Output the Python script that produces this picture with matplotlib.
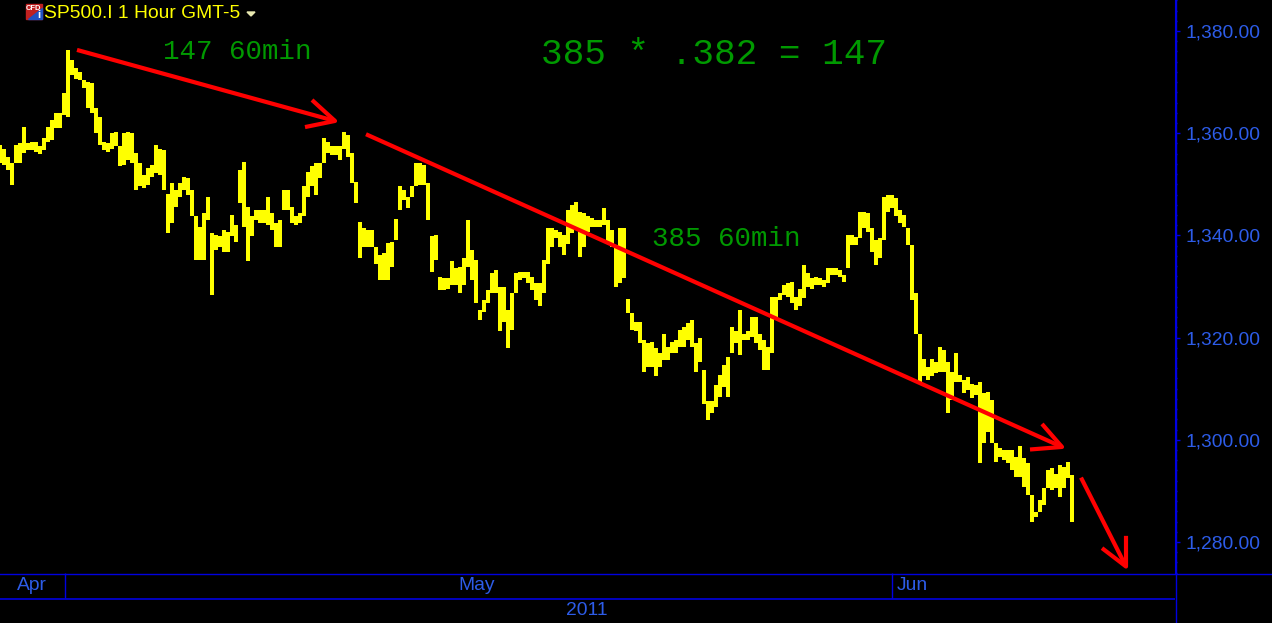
import matplotlib
matplotlib.use('Agg')
import matplotlib.pyplot as plt
import matplotlib.patches as patches
import numpy as np

# hourly high/low, left to right
High = [1357.7,1357.0,1355.4,1354.1,1357.7,1358.0,1361.3,1358.0,1358.3,1358.3,1357.4,1359.0,1361.3,1362.6,1363.9,1363.9,1367.8,1376.3,1374.3,1372.7,1372.0,1370.4,1370.1,1369.8,1364.9,1363.2,1358.3,1358.0,1360.0,1360.3,
        1357.4,1360.0,1360.3,1360.0,1356.1,1354.1,1351.8,1353.1,1353.8,1357.7,1357.0,1356.7,1348.2,1350.2,1348.9,1350.2,1351.5,1351.2,1348.9,1343.7,1341.7,1344.3,1347.6,1340.4,1340.1,1339.8,1341.1,1340.7,1344.0,1342.0,
        1352.8,1354.4,1345.6,1343.7,1345.0,1345.0,1345.0,1347.6,1344.3,1342.4,1343.0,1348.9,1348.9,1345.6,1343.7,1344.3,1349.6,1352.5,1353.5,1354.1,1354.1,1359.0,1358.3,1357.4,1357.4,1357.4,1360.3,1359.6,1356.1,1350.5,
        1342.7,1341.4,1341.1,1341.1,1337.8,1336.2,1336.5,1338.5,1338.8,1343.3,1349.6,1348.9,1347.6,1349.6,1354.1,
        1354.1,1353.8,1350.2,1339.8,1340.1,1331.9,1331.6,1331.6,1334.9,1333.6,1333.9,1335.5,1343.0,1337.1,1335.2,1325.4,1327.4,1329.3,1332.6,1333.2,1330.0,1330.0,1325.4,1328.7,1332.6,1332.9,1332.9,1332.9,1331.9,1330.6,
        1330.6,1335.2,1341.4,1341.4,1341.1,1340.7,1340.1,1345.0,1346.0,1346.6,1344.6,1344.3,1343.7,1343.4,1343.0,1343.0,1345.3,1343.0,1341.1,1338.1,1341.4,1341.4,1327.5,1324.8,1323.1,1323.1,1319.5,1318.9,1319.2,1317.9,
        1316.9,1320.8,1318.2,1319.2,1319.5,1321.5,1322.1,1322.8,1323.4,1318.9,1319.9,1313.7,1307.5,1307.5,1310.7,1312.7,1314.6,1316.3,1322.1,1321.2,1325.4,1320.8,1321.2,1324.1,1324.1,1320.8,1319.5,1318.2,1328.0,1328.0,
        1328.7,1330.3,1330.6,1330.9,1328.0,1329.6,1334.2,1332.6,1331.6,1331.9,
        1331.6,1331.3,1333.6,1333.6,1333.6,1333.2,1332.2,1340.1,1340.1,1339.7,1344.6,1344.6,1344.3,1341.4,1339.1,1339.4,1347.6,1347.9,1347.9,1347.3,1345.0,1344.0,1341.4,1338.1,1328.7,1320.8,1315.9,1314.3,1315.9,1315.3,
        1318.2,1317.6,1315.3,1313.3,1316.9,1312.7,1311.7,1312.3,1311.0,1310.7,1311.4,1309.1,1309.4,1307.8,1299.3,1298.3,1298.0,1298.0,1298.0,1296.7,1298.7,1296.4,1295.4,1289.2,1285.9,1288.2,1290.5,1294.1,1294.4,1293.4,
        1295.0,1294.7,1295.7,1293.1]
Low = [1354.1,1353.8,1352.8,1349.9,1354.1,1354.1,1356.1,1356.7,1356.7,1356.4,1355.9,1356.7,1358.3,1358.7,1361.0,1361.0,1363.6,1363.2,1371.4,1370.7,1370.4,1368.8,1364.9,1363.9,1360.0,1357.7,1356.7,1356.4,1357.0,1357.4,
       1353.5,1353.8,1354.8,1354.1,1348.9,1349.6,1349.2,1349.9,1351.5,1352.2,1351.8,1348.9,1340.4,1342.4,1345.6,1347.6,1348.9,1347.9,1343.7,1335.2,1335.2,1335.2,1343.0,1328.3,1337.2,1337.8,1336.8,1336.8,1339.8,1338.8,
       1346.3,1341.7,1334.9,1339.8,1343.0,1342.4,1342.4,1342.0,1341.1,1337.8,1337.8,1345.0,1345.0,1342.4,1342.0,1342.4,1343.7,1347.6,1349.6,1347.9,1351.2,1354.1,1356.1,1355.7,1355.7,1354.8,1357.0,1355.4,1350.2,1346.3,
       1335.5,1337.8,1337.8,1337.8,1334.5,1331.3,1331.3,1331.3,1333.9,1339.1,1345.0,1347.0,1345.3,1347.6,1349.6,
       1349.9,1349.9,1343.0,1332.9,1335.2,1329.3,1329.3,1329.6,1330.3,1330.3,1328.7,1330.3,1333.9,1331.3,1326.7,1323.4,1325.1,1326.7,1328.7,1328.7,1321.2,1323.1,1317.9,1321.5,1328.7,1331.3,1331.6,1330.6,1329.3,1327.4,
       1326.1,1328.7,1334.5,1337.8,1339.4,1337.8,1336.2,1338.4,1340.4,1341.4,1335.8,1337.8,1340.7,1341.7,1341.7,1341.7,1342.0,1338.5,1337.8,1330.0,1330.6,1331.6,1324.8,1321.5,1321.2,1318.9,1313.3,1314.3,1314.3,1312.4,
       1314.3,1315.6,1315.6,1316.9,1316.9,1318.2,1318.2,1319.5,1318.2,1313.3,1315.3,1307.1,1303.9,1305.2,1306.5,1308.4,1310.4,1308.4,1316.9,1318.9,1316.6,1319.5,1319.5,1320.2,1318.9,1317.6,1313.7,1313.7,1316.9,1324.1,
       1327.4,1328.3,1328.0,1326.7,1325.4,1326.1,1327.7,1330.0,1329.6,1330.3,
       1330.3,1330.0,1330.6,1332.2,1332.2,1331.9,1330.9,1333.6,1338.1,1338.1,1339.4,1341.4,1340.7,1336.8,1334.2,1335.5,1339.1,1344.6,1345.3,1343.7,1342.4,1341.7,1338.1,1327.4,1320.8,1311.0,1312.4,1311.7,1312.4,1313.0,
       1313.3,1313.3,1305.2,1307.8,1311.4,1311.4,1309.1,1309.7,1308.1,1308.8,1295.4,1299.3,1301.6,1299.3,1295.7,1296.7,1296.0,1295.4,1294.1,1292.8,1292.8,1290.8,1289.2,1284.0,1284.9,1285.9,1287.2,1290.5,1290.2,1290.5,
       1288.9,1290.5,1292.5,1284.0]

# drawn trend arrows, (slot, price)
Arrow_1 = ([77, 335], [1376.3, 1362.4])
Barb_1 = ([312, 335, 305], [1366.5, 1362.4, 1361.2])
Arrow_2 = ([366, 1062], [1359.8, 1298.6])
Barb_2 = ([1042, 1062, 1030], [1303.1, 1298.6, 1298.1])
Arrow_3 = ([1081, 1126], [1292.6, 1275.2])
Barb_3 = ([1126, 1126, 1102], [1281.2, 1275.2, 1278.8])

Price_Ticks = [1280, 1300, 1320, 1340, 1360, 1380]
Month_Names = ['Apr', 'May', 'Jun']
Month_Pos = [32, 477, 912]
Month_Edges = [65, 892]

W, H = 1272., 623.
Blue = '#2d5ce8'
Line_Blue = '#0000e0'
Green = '#009900'
Yellow = '#ffff00'
Red = '#ff0000'
Sans = 'Liberation Sans'
Mono = 'Liberation Mono'

fig = plt.figure(figsize=(W/100, H/100), dpi=100, facecolor='black')

'''
    price chart
'''
ax = fig.add_axes([0, (H-573)/H, 1175/W, 573/H], facecolor='black')
ax.set_xlim(0, 1175)
ax.set_ylim(1273.93, 1386.07)

Slot = np.arange(len(High))*4
ax.vlines(Slot, Low, High, color=Yellow, linewidth=2.6, antialiased=False)

for line in (Arrow_1, Barb_1, Arrow_2, Barb_2, Arrow_3, Barb_3):
    ax.plot(line[0], line[1], color=Red, linewidth=3.0, solid_capstyle='butt', solid_joinstyle='round')

ax.text(163, 1375.9, '147 60min', color=Green, family=Mono, fontsize=19.8, va='center')
ax.text(541, 1375.4, '385 * .382 = 147', color=Green, family=Mono, fontsize=26, va='center')
ax.text(652, 1339.3, '385 60min', color=Green, family=Mono, fontsize=19.8, va='center')

for side in ('top', 'left', 'bottom'):
    ax.spines[side].set_visible(False)
ax.spines['right'].set_color(Line_Blue)
ax.yaxis.tick_right()
ax.set_yticks(Price_Ticks)
ax.set_yticklabels(['{:,.2f}'.format(p) for p in Price_Ticks], color=Blue, family=Sans, fontsize=13.9)
ax.set_yticks(np.arange(1274, 1387, 2), minor=True)
ax.tick_params(axis='y', which='major', length=3.6, width=1, color=Line_Blue, pad=4.3)
ax.tick_params(axis='y', which='minor', length=1.5, width=1, color=Line_Blue)
ax.set_xticks([])

'''
    month / year band
'''
bx = fig.add_axes([0, 0, 1175/W, 50/H], facecolor='black')
bx.set_xlim(0, 1175)
bx.set_ylim(50, 0)
bx.hlines(25.5, 0, 1175, color=Line_Blue, linewidth=1.2)
bx.vlines(Month_Edges, 0, 25, color=Line_Blue, linewidth=1)
for name, pos in zip(Month_Names, Month_Pos):
    bx.text(pos, 13, name, color=Blue, family=Sans, fontsize=13.9, ha='center', va='center')
bx.text(587, 37.5, '2011', color=Blue, family=Sans, fontsize=13.9, ha='center', va='center')
bx.axis('off')

# full height frame lines, these run past the axes
fig.add_artist(plt.Line2D([0, 1], [(H-573.5)/H]*2, color=Line_Blue, linewidth=1))
fig.add_artist(plt.Line2D([1175.5/W]*2, [0, 1], color=Line_Blue, linewidth=1))

'''
    title and symbol icon
'''
fig.text(44/W, 1-13/H, 'SP500.I 1 Hour GMT-5', color=Yellow, family=Sans, fontsize=13.9, va='center')
fig.add_artist(plt.Polygon([[247/W, 1-12/H], [255/W, 1-12/H], [251/W, 1-16/H]], closed=True, color='#e8e8b0', transform=fig.transFigure))
fig.add_artist(patches.Rectangle((26/W, 1-19/H), 16/W, 15/H, color='#c02020', transform=fig.transFigure))
fig.add_artist(plt.Polygon([[28/W, 1-19/H], [42/W, 1-19/H], [42/W, 1-8/H]], closed=True, color='#2050c0', transform=fig.transFigure))
fig.text(34/W, 1-9/H, 'CFD', color='white', family=Sans, fontsize=5.5, ha='center', va='center', weight='bold')
fig.text(39/W, 1-15/H, 'i', color='white', family=Sans, fontsize=8, ha='center', va='center', weight='bold')

plt.savefig('out.png', dpi=100, facecolor='black')
